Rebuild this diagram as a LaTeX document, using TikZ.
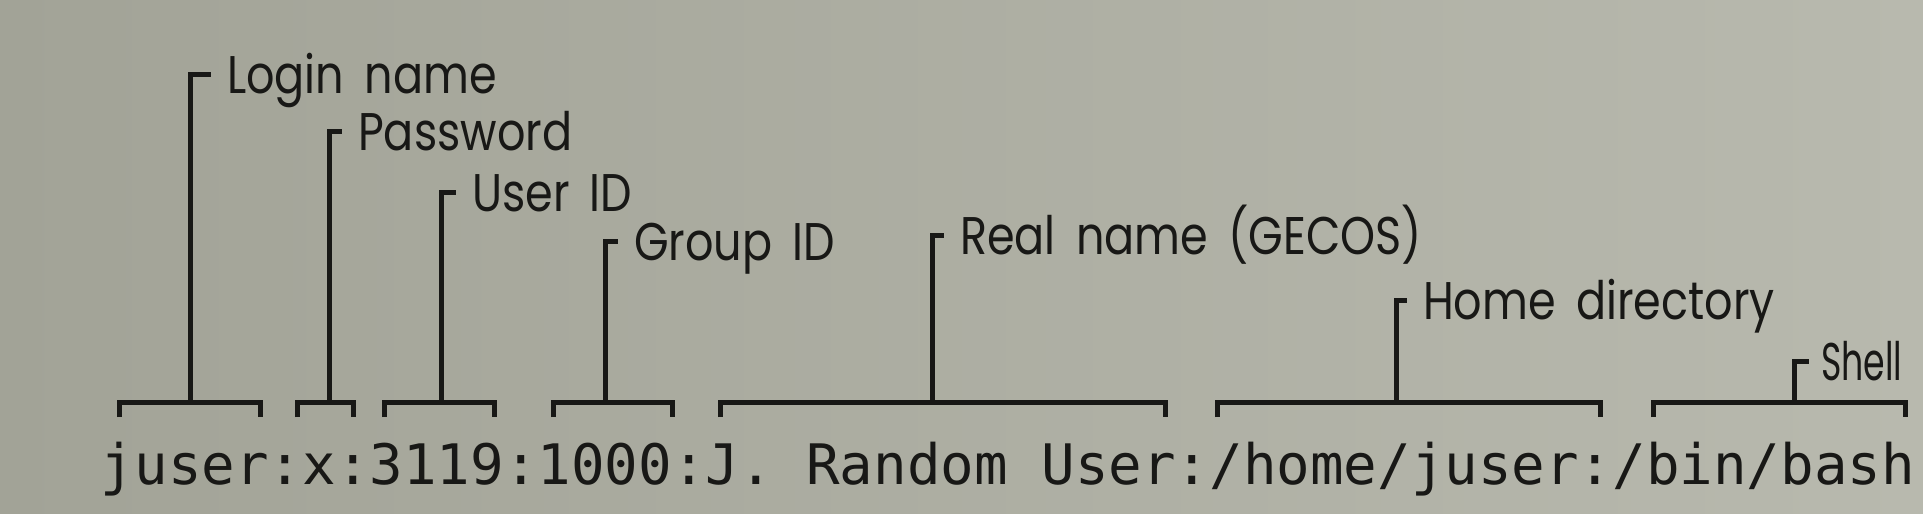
\documentclass[tikz,border=0pt]{standalone}
\usepackage{fontspec}
\newfontfamily\tagfont{Poppins}[WordSpace=1.7]
\newfontfamily\codefont{DejaVu Sans Mono}
\definecolor{paperl}{RGB}{162,163,151}
\definecolor{paperr}{RGB}{184,185,174}
\definecolor{ink}{RGB}{24,24,22}

\begin{document}
\begin{tikzpicture}[x=1pt, y=-1pt,
    tag/.style={anchor=base west, inner sep=0pt, text=ink, xscale=0.84,
        font=\tagfont\fontsize{53}{58}\selectfont},
    entry/.style={anchor=base, inner sep=0pt, text=ink,
        font=\codefont\fontsize{55.8}{60}\selectfont},
    brk/.style={draw=ink, line width=5pt}]

    % Page
    \shade[left color=paperl, right color=paperr] (0,0) rectangle (1923,514);

    % The passwd line
    \node[entry] (line) at (1008,484) {juser:x:3119:1000:J. Random User:/home/juser:/bin/bash};

    % Login name
    \node[tag] (login) at (227,93) {Login name};
    \coordinate (blogin) at (190,402);
    \draw[brk] (119,417) -- (119,402) -- (260,402) -- (260,417);
    \draw[brk] (blogin) |- ([xshift=-16pt, yshift=19pt]login.base west);

    % Password
    \node[tag] (passwd) at (358,150) {Password};
    \coordinate (bpasswd) at (329,402);
    \draw[brk] (297,417) -- (297,402) -- (353,402) -- (353,417);
    \draw[brk] (bpasswd) |- ([xshift=-16pt, yshift=19pt]passwd.base west);

    % User ID
    \node[tag] (uid) at (472,211) {User ID};
    \coordinate (buid) at (441,402);
    \draw[brk] (384,417) -- (384,402) -- (494,402) -- (494,417);
    \draw[brk] (buid) |- ([xshift=-16pt, yshift=19pt]uid.base west);

    % Group ID
    \node[tag] (gid) at (634,260) {Group ID};
    \coordinate (bgid) at (605,402);
    \draw[brk] (553,417) -- (553,402) -- (672,402) -- (672,417);
    \draw[brk] (bgid) |- ([xshift=-16pt, yshift=19pt]gid.base west);

    % Real name
    \node[tag] (gecos) at (960,254) {Real name (GECOS)};
    \coordinate (bgecos) at (932,402);
    \draw[brk] (720,417) -- (720,402) -- (1165,402) -- (1165,417);
    \draw[brk] (bgecos) |- ([xshift=-16pt, yshift=19pt]gecos.base west);

    % Home directory
    \node[tag] (home) at (1423,319) {Home directory};
    \coordinate (bhome) at (1396,402);
    \draw[brk] (1217,417) -- (1217,402) -- (1600,402) -- (1600,417);
    \draw[brk] (bhome) |- ([xshift=-16pt, yshift=19pt]home.base west);

    % Shell
    \node[tag, xscale=0.78] (shell) at (1821,380) {Shell};
    \coordinate (bshell) at (1794,402);
    \draw[brk] (1653,417) -- (1653,402) -- (1905,402) -- (1905,417);
    \draw[brk] (bshell) |- ([xshift=-12pt, yshift=19pt]shell.base west);

\end{tikzpicture}
\end{document}
